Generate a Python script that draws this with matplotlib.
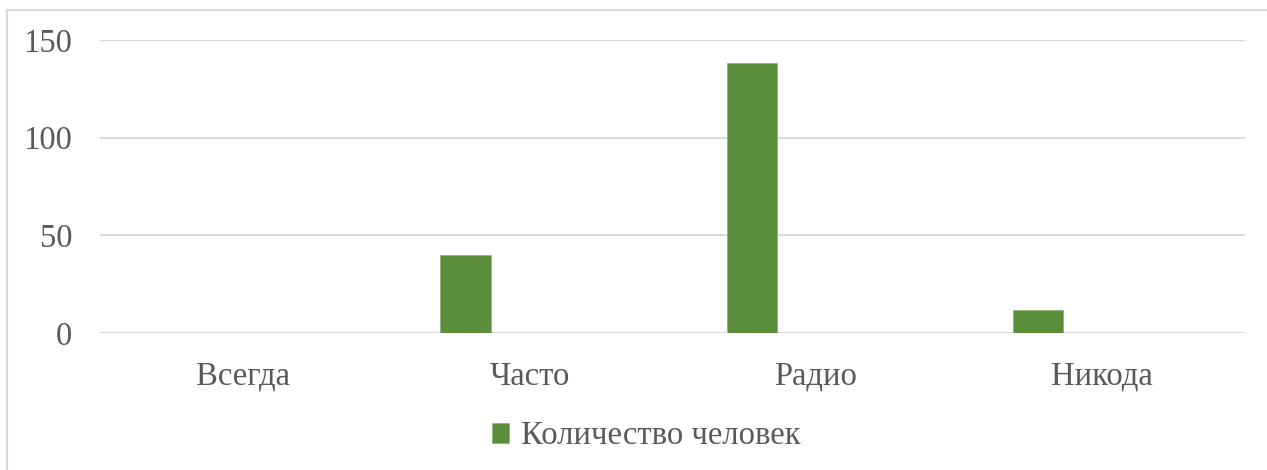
import matplotlib
matplotlib.use('Agg')
import matplotlib.pyplot as plt
from matplotlib.patches import Rectangle, Patch
import numpy as np

categories = ['Всегда', 'Часто', 'Радио', 'Никода']
values = [0, 40, 138, 12]
series_name = 'Количество человек'
yticks = [0, 50, 100, 150]

plt.rcParams['font.family'] = ['Liberation Serif', 'DejaVu Serif']
text_color = '#595959'
grid_color = '#d9d9d9'
bar_color = '#5b8e3a'

fig = plt.figure(figsize=(12.67, 4.70), dpi=100)
ax = fig.add_axes([100/1267, 1-333/470, 1145/1267, 293/470])

x = np.arange(len(categories))
ax.bar(x - 0.223, values, width=0.175, color=bar_color, edgecolor='#8db574', linewidth=0.6, zorder=3)

ax.set_xlim(-0.5, len(categories) - 0.5)
ax.set_ylim(0, 150)
ax.set_yticks(yticks)
ax.set_xticks(x)
ax.set_xticklabels(categories)
ax.yaxis.grid(True, color=grid_color, linewidth=1.5, zorder=0)
ax.tick_params(axis='both', length=0, labelsize=23.5, colors=text_color)
ax.tick_params(axis='x', pad=20.5)
ax.tick_params(axis='y', pad=20)
for s in ax.spines.values():
    s.set_visible(False)

handle = Patch(facecolor=bar_color, edgecolor='#8db574', linewidth=0.6)
leg = fig.legend([handle], [series_name], loc='center', bbox_to_anchor=(646/1267, 1-436/470),
                 frameon=False, fontsize=23.5, handlelength=0.55, handleheight=0.55, handletextpad=0.35)
for t in leg.get_texts():
    t.set_color(text_color)

# outer chart border
fig.patches.append(Rectangle((7/1267, -0.1), 1.2, 1.1 - 10/470, transform=fig.transFigure,
                             fill=False, edgecolor=grid_color, linewidth=1.5))

fig.savefig('out.png', dpi=100)
